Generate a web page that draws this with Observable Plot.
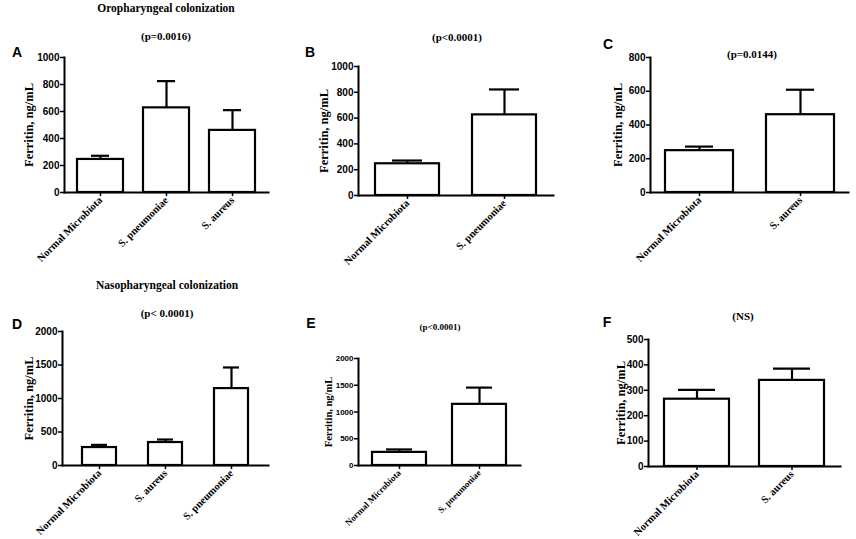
<!DOCTYPE html>
<html>
<head>
<meta charset="utf-8">
<script src="https://cdn.jsdelivr.net/npm/d3@7"></script>
<script src="https://cdn.jsdelivr.net/npm/@observablehq/plot@0.6"></script>
<style>
  html, body { margin: 0; padding: 0; background: #fff; }
  #fig { position: relative; width: 856px; height: 539px; overflow: hidden; background: #fff; }
  .panel { position: absolute; }
  .lbl { position: absolute; transform: translate(-50%, -50%); white-space: nowrap; color: #000; font-weight: bold; }
  .serif { font-family: "Liberation Serif", "DejaVu Serif", serif; }
  .sans { font-family: "Liberation Sans", Arial, sans-serif; }
</style>
</head>
<body>
<div id="fig"></div>
<script>
// ---------- data ----------
const groupsA = ["Normal Microbiota", "S. pneumoniae", "S. aureus"];
const meansA  = [245, 627, 460];
const errA    = [27, 198, 150];
const ticksA  = [0, 200, 400, 600, 800, 1000];

const groupsB = ["Normal Microbiota", "S. pneumoniae"];
const meansB  = [246, 625];
const errB    = [25, 197];
const ticksB  = [0, 200, 400, 600, 800, 1000];

const groupsC = ["Normal Microbiota", "S. aureus"];
const meansC  = [248, 461];
const errC    = [24, 148];
const ticksC  = [0, 200, 400, 600, 800];

const groupsD = ["Normal Microbiota", "S. aureus", "S. pneumoniae"];
const meansD  = [268, 343, 1148];
const errD    = [40, 45, 315];
const ticksD  = [0, 500, 1000, 1500, 2000];

const groupsE = ["Normal Microbiota", "S. pneumoniae"];
const meansE  = [245, 1143];
const errE    = [55, 313];
const ticksE  = [0, 500, 1000, 1500, 2000];

const groupsF = ["Normal Microbiota", "S. aureus"];
const meansF  = [265, 339];
const errF    = [37, 46];
const ticksF  = [0, 100, 200, 300, 400, 500];

const yLabel = "Ferritin, ng/mL";

// ---------- layout / style ----------
const fig = document.getElementById("fig");
const mL = 50, mT = 10, mR = 8, mB = 72;

function panel(groups, means, errs, ticks, L) {
  const table = groups.map((g, i) => ({group: g, mean: means[i], upper: means[i] + errs[i]}));
  const w = L.x1 - L.x0, h = L.yBot - L.yTop;
  const plot = Plot.plot({
    width: w + mL + mR,
    height: h + mT + mB,
    marginLeft: mL, marginRight: mR, marginTop: mT, marginBottom: mB,
    style: {background: "transparent", overflow: "visible"},
    x: {domain: groups, paddingInner: L.pi, paddingOuter: L.po, align: 0.5},
    y: {domain: [0, ticks[ticks.length - 1]]},
    marks: [
      Plot.barY(table, {x: "group", y: "mean", fill: "white", stroke: "black", strokeWidth: 2.2}),
      Plot.ruleX(table, {x: "group", y1: "mean", y2: "upper", stroke: "black", strokeWidth: 2.2}),
      Plot.tickY(table, {x: "group", y: "upper", stroke: "black", strokeWidth: 2.2,
        insetLeft: L.capInset, insetRight: L.capInset}),
      Plot.frame({anchor: "left", stroke: "black", strokeWidth: 2}),
      Plot.frame({anchor: "bottom", stroke: "black", strokeWidth: 2}),
      Plot.axisY({ticks: ticks, tickFormat: d => String(d), tickSize: 4, tickPadding: 1,
        strokeWidth: 1.5, label: null, fontFamily: "Liberation Sans", fontWeight: "bold",
        fontSize: L.yFont, fill: "black"}),
      Plot.axisX({tickRotate: -45, tickSize: 4, tickPadding: 2, strokeWidth: 1.5, label: null,
        fontFamily: "Liberation Serif", fontWeight: "bold", fontSize: L.xFont, fill: "black"}),
      Plot.text([yLabel], {text: d => d, frameAnchor: "left", textAnchor: "middle", rotate: -90,
        dx: -L.labelDx, fontFamily: "Liberation Serif", fontWeight: "bold", fontSize: L.labelFont,
        fill: "black"})
    ]
  });
  plot.classList.add("panel");
  plot.style.left = (L.x0 - mL) + "px";
  plot.style.top = (L.yTop - mT) + "px";
  fig.appendChild(plot);
}

panel(groupsA, meansA, errA, ticksA, {x0: 64, x1: 268, yTop: 57, yBot: 192, pi: 0.31, po: 0.18, capInset: 14, yFont: 10, xFont: 10.5, labelFont: 12.5, labelDx: 36});
panel(groupsB, meansB, errB, ticksB, {x0: 358, x1: 553, yTop: 66, yBot: 195, pi: 0.34, po: 0.175, capInset: 17, yFont: 10, xFont: 10.5, labelFont: 12.5, labelDx: 35});
panel(groupsC, meansC, errC, ticksC, {x0: 650, x1: 848, yTop: 57, yBot: 192, pi: 0.33, po: 0.144, capInset: 20, yFont: 10, xFont: 10.5, labelFont: 12.5, labelDx: 33});
panel(groupsD, meansD, errD, ticksD, {x0: 62, x1: 268, yTop: 331, yBot: 465, pi: 0.48, po: 0.28, capInset: 9, yFont: 10, xFont: 10.5, labelFont: 12.5, labelDx: 34});
panel(groupsE, meansE, errE, ticksE, {x0: 358, x1: 520, yTop: 358, yBot: 465, pi: 0.32, po: 0.17, capInset: 14, yFont: 8, xFont: 9, labelFont: 10.5, labelDx: 30});
panel(groupsF, meansF, errF, ticksF, {x0: 648, x1: 840, yTop: 339, yBot: 466, pi: 0.32, po: 0.17, capInset: 14, yFont: 10, xFont: 10.5, labelFont: 12.5, labelDx: 28});

// ---------- titles and panel letters ----------
const labels = [
  ["Oropharyngeal colonization", 166, 8, "serif", 11.5],
  ["(p=0.0016)", 166, 36, "serif", 11],
  ["(p<0.0001)", 457, 37, "serif", 11],
  ["(p=0.0144)", 752, 54, "serif", 11],
  ["Nasopharyngeal colonization", 167, 285, "serif", 11.5],
  ["(p< 0.0001)", 167, 313, "serif", 11],
  ["(p<0.0001)", 440, 327, "serif", 9],
  ["(NS)", 743, 316, "serif", 11],
  ["A", 17, 52, "sans", 14],
  ["B", 310, 52, "sans", 14],
  ["C", 608, 44, "sans", 14],
  ["D", 17, 324, "sans", 14],
  ["E", 311, 323, "sans", 14],
  ["F", 607, 322, "sans", 14]
];
for (const [t, x, y, fam, fs] of labels) {
  const d = document.createElement("div");
  d.className = "lbl " + fam;
  d.textContent = t;
  d.style.left = x + "px";
  d.style.top = y + "px";
  d.style.fontSize = fs + "px";
  fig.appendChild(d);
}
</script>
</body>
</html>
